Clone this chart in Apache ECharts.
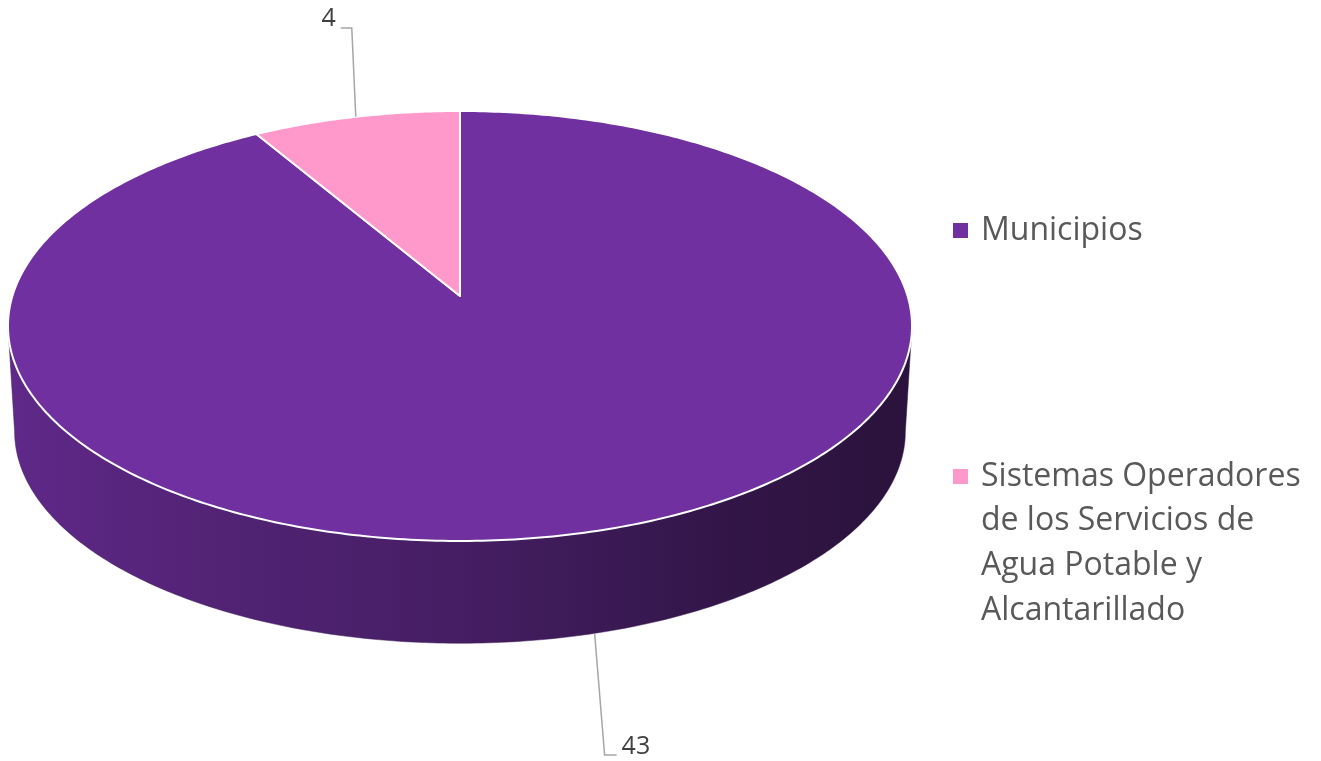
<!DOCTYPE html>
<html>
<head>
<meta charset="utf-8">
<script src="https://cdn.jsdelivr.net/npm/echarts@6/dist/echarts.min.js"></script>
<style>
  html, body { margin: 0; padding: 0; background: #fff; }
  #chart { width: 1321px; height: 761px; }
</style>
</head>
<body>
<div id="chart"></div>
<script>
const categories = ['Municipios', 'Sistemas Operadores de los Servicios de Agua Potable y Alcantarillado'];
const values = [43, 4];

const chart = echarts.init(document.getElementById('chart'));

const total = values.reduce((a, b) => a + b, 0);
// start angle of each slice, clockwise from 12 o'clock
const startAngles = values.map((v, i) => values.slice(0, i).reduce((a, b) => a + b, 0) / total * Math.PI * 2);

// 3D pie geometry with a simple perspective (b): back part smaller, front part bigger
const pie = {
  cx: 460, cy: 296, rx: 447.6, ry: 210.8, b: 0.1395,
  cyB: 402, rxB: 441, ryB: 207.6
};
const LH = 44.7; // legend line height

function project(t, cy, rx, ry) {
  const w = 1 + pie.b * Math.cos(t);
  return [pie.cx + rx * Math.sin(t) / w, cy - ry * Math.cos(t) / w];
}
function topPt(t) { return project(t, pie.cy, pie.rx, pie.ry); }
function botPt(t) { return project(t, pie.cyB, pie.rxB, pie.ryB); }
function arc(fn, a, b) {
  const n = Math.max(2, Math.ceil(Math.abs(b - a) * 80));
  const pts = [];
  for (let k = 0; k <= n; k++) pts.push(fn(a + (b - a) * k / n));
  return pts;
}
// darker version of a colour
function shade(color, f) {
  const c = echarts.color.parse(color);
  return 'rgb(' + Math.round(c[0] * f) + ',' + Math.round(c[1] * f) + ',' + Math.round(c[2] * f) + ')';
}

function renderSlice(params, api) {
  const i = params.seriesIndex;
  const v = api.value(0);
  const a0 = startAngles[i];
  const a1 = a0 + v / total * Math.PI * 2;
  const color = api.visual('color');
  const children = [];

  // front side wall (only the part facing the viewer)
  const edge = Math.acos(-pie.b);
  const s = Math.max(a0, edge);
  const e = Math.min(a1, Math.PI * 2 - edge);
  if (e > s) {
    children.push({
      type: 'polygon',
      z2: 1,
      shape: { points: arc(topPt, s, e).concat(arc(botPt, e, s)) },
      style: {
        fill: new echarts.graphic.LinearGradient(12, 0, 912, 0, [
          { offset: 0, color: shade(color, 0.86) },
          { offset: 0.02, color: shade(color, 0.84) },
          { offset: 0.23, color: shade(color, 0.73) },
          { offset: 0.5, color: shade(color, 0.62) },
          { offset: 0.77, color: shade(color, 0.46) },
          { offset: 0.95, color: shade(color, 0.39) },
          { offset: 1, color: shade(color, 0.39) }
        ], true),
        stroke: shade(color, 0.5),
        lineWidth: 0.5
      }
    });
  }

  // top face
  children.push({
    type: 'polygon',
    z2: 10,
    shape: { points: [[pie.cx, pie.cy]].concat(arc(topPt, a0, a1)) },
    style: { fill: color, stroke: '#fff', lineWidth: 2, lineJoin: 'round' }
  });

  // label with leader line
  const mid = (a0 + a1) / 2;
  let pts, tx, ty, align;
  if (Math.cos(mid) < 0) {
    const p = botPt(mid);
    const yEnd = 755;
    pts = [p, [p[0] + 10, yEnd], [p[0] + 22, yEnd]];
    tx = p[0] + 27; ty = yEnd - 8; align = 'left';
  } else {
    const p = topPt(mid);
    const yEnd = 28;
    pts = [p, [p[0] - 4, yEnd], [p[0] - 15, yEnd]];
    tx = p[0] - 20; ty = yEnd - 9; align = 'right';
  }
  children.push({
    type: 'polyline',
    z2: 20,
    shape: { points: pts },
    style: { stroke: '#a6a6a6', lineWidth: 1.5, fill: null }
  });
  children.push({
    type: 'text',
    z2: 20,
    style: {
      text: String(v),
      x: tx,
      y: ty,
      fill: '#404040',
      font: '25px "Open Sans"',
      align: align,
      verticalAlign: 'middle'
    }
  });

  return { type: 'group', children: children };
}

const colors = ['#7030A0', '#FF99CC'];

let option = {
  animation: false,
  legend: [
    {
      data: [categories[0]],
      left: 953,
      top: 230.5 - LH / 2,
      padding: 0,
      icon: 'rect',
      itemWidth: 15,
      itemHeight: 15,
      selectedMode: false,
      textStyle: {
        fontFamily: 'Open Sans',
        fontSize: 32,
        color: '#595959',
        lineHeight: LH,
        padding: [0, 0, 0, 8]
      }
    },
    {
      data: [categories[1]],
      left: 953,
      top: 476.5 - 3.5 * LH,
      padding: 0,
      icon: 'rect',
      itemWidth: 15,
      itemHeight: 15,
      selectedMode: false,
      // three empty lines first, so the icon sits next to the first text line
      formatter: name => '\n\n\n' + name,
      textStyle: {
        fontFamily: 'Open Sans',
        fontSize: 32,
        color: '#595959',
        lineHeight: LH,
        width: 330,
        overflow: 'break',
        padding: [0, 0, 0, 8]
      }
    }
  ],
  series: values.map((v, i) => ({
    name: categories[i],
    type: 'custom',
    coordinateSystem: 'none',
    silent: true,
    itemStyle: { color: colors[i] },
    renderItem: renderSlice,
    data: [[v]]
  }))
};

chart.setOption(option);
</script>
</body>
</html>
